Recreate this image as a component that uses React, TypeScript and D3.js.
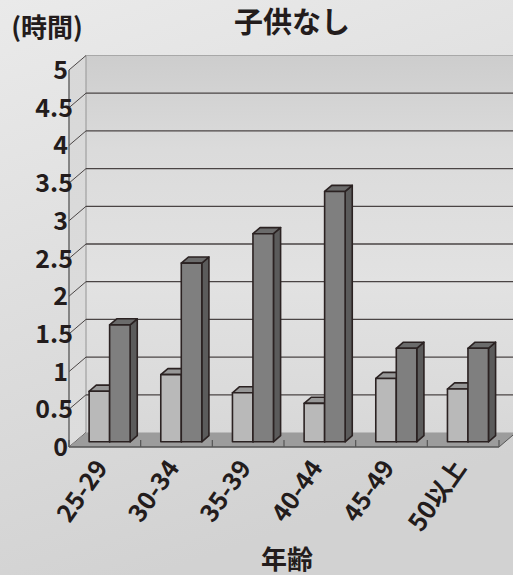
import React from "react";
import * as d3 from "d3";

// Age groups and average daily hours for the two series
const categories = ["25-29", "30-34", "35-39", "40-44", "45-49", "50以上"];
const seriesLight = [0.67, 0.89, 0.65, 0.51, 0.84, 0.7];
const seriesDark = [1.55, 2.37, 2.76, 3.32, 1.24, 1.24];
const yTicks = [0, 0.5, 1, 1.5, 2, 2.5, 3, 3.5, 4, 4.5, 5];

const titleText = "子供なし";
const unitText = "(時間)";
const xTitleText = "年齢";

const W = 513;
const H = 575;
const FONT = "'Noto Sans CJK JP', 'Noto Sans', sans-serif";

// Front plane of the 3D box
const X0 = 69;
const X1 = 499;
const Y0 = 447;
const Y5 = 70;
// Offset from front plane to back wall
const DX = 17;
const DY = -14.5;
// Bars sit between these depth fractions
const Z_FRONT = 0.36;
const Z_BACK = 0.78;

const x = d3.scaleBand<string>().domain(categories).range([X0, X1]).padding(0);
const y = d3.scaleLinear().domain([0, 5]).range([Y0, Y5]);
const inner = d3.scaleBand<string>().domain(["a", "b"]).range([14, 55]).padding(0);

const proj = (px: number, v: number, z: number): [number, number] => [
  px + z * DX,
  y(v) + z * DY,
];
const pts = (arr: [number, number][]) => arr.map((p) => p.join(",")).join(" ");

const STROKE = "#2b2222";

function Bar({ left, width, value, front, top, side }: any) {
  const r = left + width;
  const fbl = proj(left, 0, Z_FRONT);
  const fbr = proj(r, 0, Z_FRONT);
  const ftl = proj(left, value, Z_FRONT);
  const ftr = proj(r, value, Z_FRONT);
  const btl = proj(left, value, Z_BACK);
  const btr = proj(r, value, Z_BACK);
  const bbr = proj(r, 0, Z_BACK);
  return (
    <g stroke={STROKE} strokeWidth={1.6} strokeLinejoin="round">
      <polygon points={pts([fbr, ftr, btr, bbr])} fill={side} />
      <polygon points={pts([ftl, ftr, btr, btl])} fill={top} />
      <polygon points={pts([fbl, fbr, ftr, ftl])} fill={front} />
    </g>
  );
}

export default function App() {
  const backLeft = X0 + DX;
  const backRight = X1 + DX;
  return (
    <svg
      width={W}
      height={H}
      style={{ position: "absolute", left: 0, top: 0 }}
      fontFamily={FONT}
    >
      <defs>
        <linearGradient id="bg" x1="0" y1="0" x2="0.3" y2="1">
          <stop offset="0%" stopColor="#eaeaea" />
          <stop offset="100%" stopColor="#d2d2d2" />
        </linearGradient>
        <linearGradient id="wall" x1="0" y1="0" x2="0" y2="1">
          <stop offset="0%" stopColor="#cdcdcd" />
          <stop offset="25%" stopColor="#dbdbdb" />
          <stop offset="60%" stopColor="#e2e2e2" />
          <stop offset="100%" stopColor="#d8d8d8" />
        </linearGradient>
        <linearGradient id="side" x1="0" y1="0" x2="0" y2="1">
          <stop offset="0%" stopColor="#d8d8d8" />
          <stop offset="100%" stopColor="#dddddd" />
        </linearGradient>
      </defs>
      <rect width={W} height={H} fill="url(#bg)" />

      {/* back wall */}
      <rect
        x={backLeft}
        y={y(5) + DY}
        width={backRight - backLeft}
        height={y(0) - y(5)}
        fill="url(#wall)"
      />
      <line x1={backLeft} x2={backRight} y1={y(5) + DY} y2={y(5) + DY} stroke="#a8a8a8" strokeWidth={1.2} />
      {/* left wall */}
      <polygon
        points={pts([
          [X0, y(0)],
          [X0, y(5)],
          [backLeft, y(5) + DY],
          [backLeft, y(0) + DY],
        ])}
        fill="url(#side)"
      />
      <line x1={backLeft} x2={backLeft} y1={y(5) + DY} y2={y(0) + DY} stroke="#a0a0a0" strokeWidth={1.2} />

      {/* gridlines */}
      {yTicks
        .filter((t) => t > 0 && t < 5)
        .map((t) => (
          <line
            key={"g" + t}
            x1={backLeft}
            x2={backRight}
            y1={y(t) + DY}
            y2={y(t) + DY}
            stroke="#4a4444"
            strokeWidth={1.3}
          />
        ))}
      {yTicks.map((t) => (
        <line
          key={"d" + t}
          x1={X0}
          y1={y(t)}
          x2={backLeft}
          y2={y(t) + DY}
          stroke="#3a3434"
          strokeWidth={0.9}
        />
      ))}

      {/* floor */}
      <polygon
        points={pts([
          [X0, y(0)],
          [X1, y(0)],
          [backRight, y(0) + DY],
          [backLeft, y(0) + DY],
        ])}
        fill="#9c9c9c"
      />
      <line x1={X1} y1={y(0)} x2={backRight} y2={y(0) + DY} stroke="#555" strokeWidth={1} />

      {/* axes */}
      <line x1={X0} x2={X0} y1={y(5)} y2={y(0)} stroke="#555" strokeWidth={1.3} />
      <line x1={X0} x2={X1} y1={y(0)} y2={y(0)} stroke="#555" strokeWidth={1.3} />
      {d3.range(categories.length + 1).map((i) => {
        const px = X0 + i * x.step();
        return <line key={"t" + i} x1={px} x2={px} y1={y(0)} y2={y(0) - 7} stroke="#555" strokeWidth={1.2} />;
      })}

      {/* bars */}
      {categories.map((c, i) => {
        const bx = x(c)!;
        return (
          <g key={c}>
            <Bar
              left={bx + inner("a")!}
              width={inner.bandwidth()}
              value={seriesLight[i]}
              front="#b9b9b9"
              top="#979797"
              side="#8a8a8a"
            />
            <Bar
              left={bx + inner("b")!}
              width={inner.bandwidth()}
              value={seriesDark[i]}
              front="#7f7f7f"
              top="#6b6b6b"
              side="#5b5b5b"
            />
          </g>
        );
      })}

      {/* y tick labels */}
      {yTicks.map((t) => (
        <text
          key={"l" + t}
          x={Number.isInteger(t) ? 68 : 73}
          y={y(t)}
          dy="0.36em"
          textAnchor="end"
          fontSize={25}
          fontWeight={700}
          fill="#231c1c"
        >
          {String(t)}
        </text>
      ))}

      {/* x tick labels */}
      {categories.map((c) => {
        const cx = x(c)! + x.bandwidth() / 2;
        return (
          <text
            key={"x" + c}
            transform={`translate(${cx + 4},468) rotate(-55)`}
            textAnchor="end"
            fontSize={25}
            fontWeight={700}
            fill="#231c1c"
          >
            {c}
          </text>
        );
      })}

      {/* titles */}
      <text x={292} y={33} textAnchor="middle" fontSize={29} fontWeight={700} fill="#231c1c">
        {titleText}
      </text>
      <text x={47} y={37} textAnchor="middle" fontSize={26} fontWeight={700} fill="#231c1c">
        {unitText}
      </text>
      <text x={287} y={569} textAnchor="middle" fontSize={26} fontWeight={700} fill="#231c1c">
        {xTitleText}
      </text>
    </svg>
  );
}
